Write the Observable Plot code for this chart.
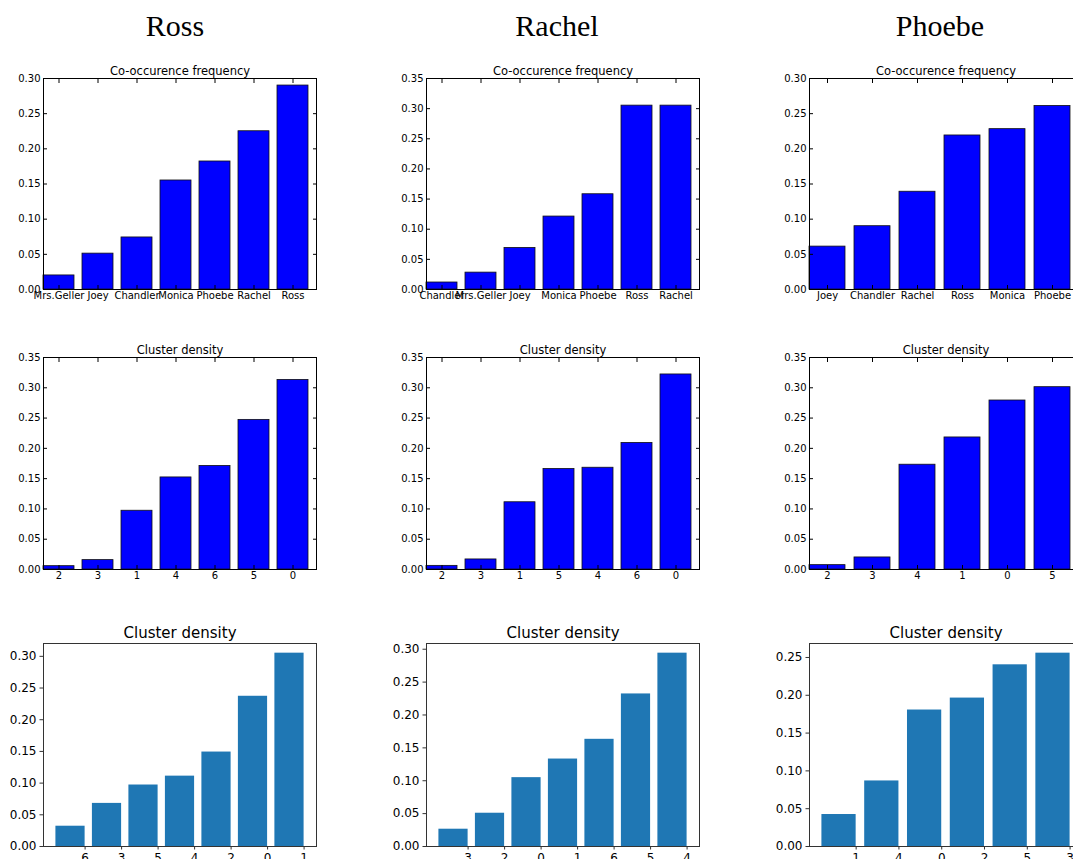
<!DOCTYPE html>
<html><head><meta charset="utf-8">
<script src="https://cdn.jsdelivr.net/npm/d3@7"></script>
<script src="https://cdn.jsdelivr.net/npm/@observablehq/plot@0.6"></script>
<style>
html,body{margin:0;padding:0;background:#fff;}
#page{position:relative;width:1073px;height:859px;overflow:hidden;background:#fff;}
.panel{position:absolute;}
.panel svg{max-width:none !important;}
.coltitle{position:absolute;width:300px;text-align:center;font-family:"Liberation Serif",serif;font-size:30px;line-height:30px;color:#000;}
</style></head><body><div id="page"></div>
<script>
// ---- Column titles ----
const people = ["Ross", "Rachel", "Phoebe"];

// ---- Row 1: Co-occurence frequency ----
const coTitle = "Co-occurence frequency";
const rossCoNames = ["Mrs.Geller", "Joey", "Chandler", "Monica", "Phoebe", "Rachel", "Ross"];
const rossCoValues = [0.020, 0.051, 0.074, 0.155, 0.182, 0.225, 0.290];
const rachelCoNames = ["Chandler", "Mrs.Geller", "Joey", "Monica", "Phoebe", "Ross", "Rachel"];
const rachelCoValues = [0.0116, 0.028, 0.069, 0.121, 0.158, 0.305, 0.305];
const phoebeCoNames = ["Joey", "Chandler", "Rachel", "Ross", "Monica", "Phoebe"];
const phoebeCoValues = [0.061, 0.090, 0.139, 0.219, 0.228, 0.261];

// ---- Row 2: Cluster density (classic style) ----
const clTitle = "Cluster density";
const rossClLabels = ["2", "3", "1", "4", "6", "5", "0"];
const rossClValues = [0.0055, 0.0155, 0.097, 0.152, 0.171, 0.247, 0.313];
const rachelClLabels = ["2", "3", "1", "5", "4", "6", "0"];
const rachelClValues = [0.006, 0.0166, 0.111, 0.166, 0.168, 0.209, 0.322];
const phoebeClLabels = ["2", "3", "4", "1", "0", "5"];
const phoebeClValues = [0.0072, 0.0199, 0.173, 0.218, 0.279, 0.301];

// ---- Row 3: Cluster density (modern style) ----
const rossCl2Labels = ["6", "3", "5", "4", "2", "0", "1"];
const rossCl2Values = [0.032, 0.068, 0.097, 0.111, 0.149, 0.237, 0.305];
const rachelCl2Labels = ["3", "2", "0", "1", "6", "5", "4"];
const rachelCl2Values = [0.0263, 0.0506, 0.1047, 0.133, 0.163, 0.232, 0.294];
const phoebeCl2Labels = ["1", "4", "0", "2", "5", "3"];
const phoebeCl2Values = [0.0423, 0.0867, 0.1805, 0.1963, 0.2403, 0.2557];

const page = document.getElementById("page");

// layout
const colLefts = [43, 426, 809];
const colTitleCenters = [175, 557, 940];
const frameW = 273;
const rowTops = [78, 357, 643];
const rowHeights = [211, 212, 203];

function place(svg, left, top, w, h) {
  const div = document.createElement("div");
  div.className = "panel";
  div.style.left = left + "px";
  div.style.top = top + "px";
  div.style.width = w + "px";
  div.style.height = h + "px";
  div.appendChild(svg);
  page.appendChild(div);
}

function classicPanel(names, values, title, frameLeft, frameTop, height) {
  const data = names.map((n, i) => ({name: n, value: values[i]}));
  const ymax = Math.ceil(d3.max(values) / 0.05 - 1e-9) * 0.05;
  const yticks = d3.range(0, ymax + 1e-9, 0.05);
  const ML = 43, MR = 14, MT = 30, MB = 22;
  const W = ML + frameW + MR, H = MT + height + MB;
  const svg = Plot.plot({
    width: W, height: H,
    marginLeft: ML, marginRight: MR, marginTop: MT, marginBottom: MB,
    style: {fontFamily: "DejaVu Sans", fontSize: "10px", color: "#000", background: "transparent", overflow: "visible", maxWidth: "none"},
    x: {type: "band", domain: names, paddingInner: 0.2, paddingOuter: 0.1, align: 0, axis: null},
    y: {domain: [0, ymax], axis: null},
    marks: [
      Plot.barY(data, {x: "name", y: "value", fill: "#0000ff", stroke: "#111", strokeWidth: 0.8}),
      Plot.frame({stroke: "#000"}),
      Plot.axisY({ticks: yticks, tickFormat: d3.format(".2f"), tickSize: -4, tickPadding: 7, label: null, fontSize: 10}),
      Plot.axisY({anchor: "right", ticks: yticks, tickFormat: () => "", tickSize: -4, label: null}),
      Plot.axisX({tickSize: -4, tickPadding: 6, label: null, fontSize: 10}),
      Plot.axisX({anchor: "top", tickSize: -4, tickFormat: () => "", label: null}),
      Plot.text([title], {text: d => d, frameAnchor: "top", dy: -4, lineAnchor: "bottom", fontSize: 11.5})
    ]
  });
  place(svg, frameLeft - ML, frameTop - MT, W, H);
}

function modernPanel(labels, values, title, frameLeft, frameTop, height) {
  const n = labels.length;
  const data = values.map((v, i) => ({i, label: labels[i], value: v}));
  const m = 0.05 * (n - 0.2);
  const ymax = d3.max(values) * 1.05;
  const yticks = d3.range(0, ymax, 0.05);
  const xticks = d3.range(n).map(i => i + 0.4);
  const ML = 43, MR = 14, MT = 30, MB = 24;
  const W = ML + frameW + MR, H = MT + height + MB;
  const svg = Plot.plot({
    width: W, height: H,
    marginLeft: ML, marginRight: MR, marginTop: MT, marginBottom: MB,
    style: {fontFamily: "DejaVu Sans", fontSize: "12px", color: "#000", background: "transparent", overflow: "visible", maxWidth: "none"},
    x: {type: "linear", domain: [-0.4 - m, n - 0.6 + m], axis: null},
    y: {domain: [0, ymax], axis: null},
    marks: [
      Plot.rectY(data, {x1: d => d.i - 0.4, x2: d => d.i + 0.4, y: "value", fill: "#1f77b4"}),
      Plot.frame({stroke: "#333"}),
      Plot.axisY({ticks: yticks, tickFormat: d3.format(".2f"), tickSize: 3.5, tickPadding: 3.5, label: null, fontSize: 12, stroke: "#333"}),
      Plot.axisX({ticks: xticks, tickFormat: d => labels[Math.round(d - 0.4)], tickSize: 3.5, tickPadding: 3, label: null, fontSize: 12, stroke: "#333"}),
      Plot.text([title], {text: d => d, frameAnchor: "top", dy: -6, lineAnchor: "bottom", fontSize: 15})
    ]
  });
  place(svg, frameLeft - ML, frameTop - MT, W, H);
}

// column titles
people.forEach((p, c) => {
  const t = document.createElement("div");
  t.className = "coltitle";
  t.textContent = p;
  t.style.left = (colTitleCenters[c] - 150) + "px";
  t.style.top = "11px";
  page.appendChild(t);
});

const row1 = [[rossCoNames, rossCoValues], [rachelCoNames, rachelCoValues], [phoebeCoNames, phoebeCoValues]];
const row2 = [[rossClLabels, rossClValues], [rachelClLabels, rachelClValues], [phoebeClLabels, phoebeClValues]];
const row3 = [[rossCl2Labels, rossCl2Values], [rachelCl2Labels, rachelCl2Values], [phoebeCl2Labels, phoebeCl2Values]];

row1.forEach(([n, v], c) => classicPanel(n, v, coTitle, colLefts[c], rowTops[0], rowHeights[0]));
row2.forEach(([n, v], c) => classicPanel(n, v, clTitle, colLefts[c], rowTops[1], rowHeights[1]));
row3.forEach(([n, v], c) => modernPanel(n, v, clTitle, colLefts[c], rowTops[2], rowHeights[2]));
</script>
</body></html>
